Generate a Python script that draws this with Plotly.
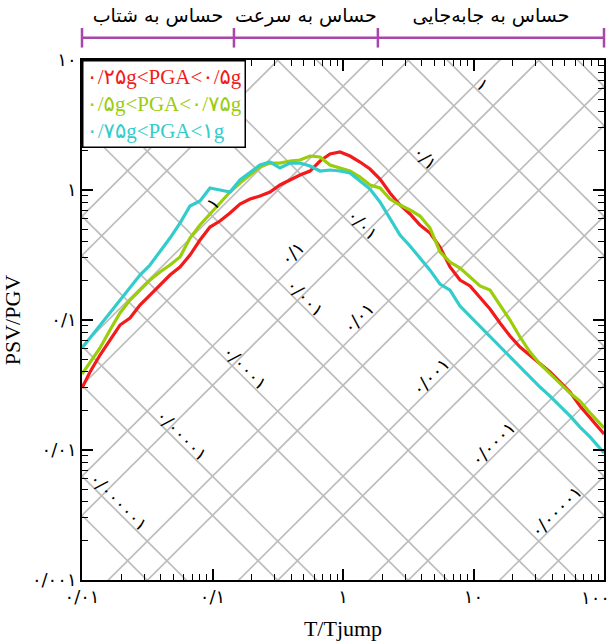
import math
import plotly.graph_objects as go

# ---------------------------------------------------------------------------
# Normalised spectra PSV/PGV against T/Tjump for three PGA bins
# ---------------------------------------------------------------------------
period = [0.0100, 0.01152, 0.01374, 0.01639, 0.01955, 0.02332, 0.02782, 0.03319, 0.03960, 0.04723,
          0.05636, 0.06723, 0.08020, 0.09568, 0.1141, 0.1362, 0.1624, 0.1938, 0.2312, 0.2758,
          0.3290, 0.3925, 0.4683, 0.5587, 0.6665, 0.7951, 0.9484, 1.131, 1.350, 1.610,
          1.921, 2.292, 2.734, 3.262, 3.891, 4.642, 5.538, 6.606, 7.881, 9.402,
          11.22, 13.38, 15.96, 19.04, 22.72, 27.10, 32.33, 38.57, 46.01, 54.89,
          65.49, 78.12, 100.0]

psv_low = [0.0300, 0.0398, 0.0538, 0.0702, 0.0915, 0.1036, 0.1304, 0.1557, 0.1858, 0.2219,
           0.2557, 0.3162, 0.4125, 0.5193, 0.5773, 0.6654, 0.7804, 0.8527, 0.8992, 0.9652,
           1.093, 1.194, 1.304, 1.400, 1.672, 1.892, 1.960, 1.826, 1.642, 1.450,
           1.215, 0.948, 0.767, 0.654, 0.538, 0.467, 0.364, 0.256, 0.203, 0.183,
           0.150, 0.1215, 0.0948, 0.0753, 0.0620, 0.0538, 0.0467, 0.0398, 0.0334, 0.0279,
           0.0218, 0.0176, 0.0133]

psv_mid = [0.0384, 0.0475, 0.0609, 0.0838, 0.1132, 0.1425, 0.1701, 0.2031, 0.2340, 0.2649,
           0.3052, 0.4273, 0.5381, 0.6537, 0.7943, 0.9652, 1.132, 1.304, 1.503, 1.613,
           1.613, 1.672, 1.701, 1.826, 1.794, 1.557, 1.476, 1.400, 1.259, 1.093,
           1.036, 0.853, 0.767, 0.702, 0.631, 0.510, 0.334, 0.279, 0.251, 0.214,
           0.183, 0.170, 0.1304, 0.1000, 0.0740, 0.0567, 0.0459, 0.0384, 0.0322, 0.0274,
           0.0238, 0.0193, 0.0148]

psv_high = [0.0609, 0.0727, 0.0915, 0.1152, 0.1425, 0.1794, 0.2219, 0.2649, 0.3336, 0.4273,
            0.5572, 0.7532, 0.8230, 1.036, 1.000, 0.9652, 1.194, 1.375, 1.557, 1.642,
            1.476, 1.613, 1.613, 1.530, 1.400, 1.425, 1.400, 1.351, 1.173, 1.018,
            0.809, 0.609, 0.451, 0.371, 0.300, 0.242, 0.189, 0.170, 0.128, 0.107,
            0.0899, 0.0753, 0.0631, 0.0528, 0.0443, 0.0364, 0.0305, 0.0260, 0.0218, 0.0183,
            0.0150, 0.0126, 0.0095]

series_names = ["۰/۲۵g&lt;PGA&lt;۰/۵g", "۰/۵g&lt;PGA&lt;۰/۷۵g", "۰/۷۵g&lt;PGA&lt;۱g"]
series_colors = ["#F21A1A", "#9ACD0A", "#33CCCC"]

# Tripartite guide lines: values m*10^n (m = 0.5, 1), scaled by 2*pi
grid_multipliers = [0.5, 1.0]
grid_decades = list(range(-6, 3))

disp_labels = ["۱", "۰/۱", "۰/۰۱", "۰/۰۰۱", "۰/۰۰۰۱", "۰/۰۰۰۰۱", "۰/۰۰۰۰۰۱"]
acc_labels = ["۱", "۰/۱", "۰/۰۱", "۰/۰۰۱", "۰/۰۰۰۱", "۰/۰۰۰۰۱"]

# Sensitivity regions along T/Tjump
region_bounds = [0.01, 0.146, 1.85, 100]
region_names = ["حساس به شتاب", "حساس به سرعت", "حساس به جابه\u200cجایی"]

x_tickvals = [0.01, 0.1, 1, 10, 100]
x_ticktext = ["۰/۰۱", "۰/۱", "۱", "۱۰", "۱۰۰"]
y_tickvals = [0.001, 0.01, 0.1, 1, 10]
y_ticktext = ["۰/۰۰۱", "۰/۰۱", "۰/۱", "۱", "۱۰"]

SERIF = "Liberation Serif, Times New Roman, DejaVu Sans, serif"
ARABIC = "DejaVu Sans, sans-serif"
GRID = "#BDBDBD"
PURPLE = "#A946A9"
TICK_FONT = dict(family=ARABIC, size=18, color="black")

fig = go.Figure()

# ---- guide lines --------------------------------------------------------
t_lo, t_hi = 1e-3, 1e3
dx, dy, ax_, ay_ = [], [], [], []
for n in grid_decades:
    for m in grid_multipliers:
        k = 2 * math.pi * m * 10 ** n
        # constant displacement: PSV * T = k
        dx += [t_lo, t_hi, None]
        dy += [k / t_lo, k / t_hi, None]
        # constant acceleration: PSV / T = k
        ax_ += [t_lo, t_hi, None]
        ay_ += [k * t_lo, k * t_hi, None]

for gx, gy in ((dx, dy), (ax_, ay_)):
    fig.add_trace(go.Scatter(x=gx, y=gy, mode="lines",
                             line=dict(color=GRID, width=1.7),
                             hoverinfo="skip", showlegend=False))

# ---- spectra -------------------------------------------------------------
for name, vals, col in zip(series_names, [psv_low, psv_mid, psv_high], series_colors):
    fig.add_trace(go.Scatter(x=period, y=vals, mode="lines", name=name,
                             line=dict(color=col, width=3.2)))

# ---- labels on guide lines ---------------------------------------------
label_font = dict(family=ARABIC, size=18, color="black")
disp_label_logt = [1.07, 0.63, 0.15, -0.29, -0.75, -1.23, -1.72]
for i, (txt, lt) in enumerate(zip(disp_labels, disp_label_logt)):
    logk = math.log10(2 * math.pi * 10 ** (1 - i))
    fig.add_annotation(x=lt, y=logk - lt + 0.085, text=txt, showarrow=False,
                       textangle=45, font=label_font, xref="x", yref="y")

acc_label_logt = [-1.0, -0.39, 0.12, 0.67, 1.15, 1.63]
for i, (txt, lt) in enumerate(zip(acc_labels, acc_label_logt)):
    logk = math.log10(2 * math.pi * 10 ** (-i))
    fig.add_annotation(x=lt, y=logk + lt + 0.1, text=txt, showarrow=False,
                       textangle=-45, font=label_font, xref="x", yref="y")

# ---- sensitivity bracket on top -----------------------------------------
fig.add_trace(go.Scatter(x=region_bounds, y=[0.33] * len(region_bounds),
                         xaxis="x", yaxis="y2", mode="lines+markers",
                         line=dict(color=PURPLE, width=2.5),
                         marker=dict(symbol="line-ns", size=14,
                                     line=dict(color=PURPLE, width=2.5)),
                         cliponaxis=False, hoverinfo="skip", showlegend=False))
mids = [math.sqrt(a * b) for a, b in zip(region_bounds[:-1], region_bounds[1:])]
fig.add_trace(go.Scatter(x=mids, y=[0.74] * len(mids), xaxis="x", yaxis="y2",
                         mode="text", text=region_names,
                         textfont=dict(family=ARABIC, size=19, color="black"),
                         cliponaxis=False, hoverinfo="skip", showlegend=False))

# ---- legend box ----------------------------------------------------------
legend_text = "<br>".join(
    f"<span style='color:{c}'>{n}</span>" for n, c in zip(series_names, series_colors))
fig.add_annotation(xref="x domain", yref="y domain", x=0, y=1,
                   xanchor="left", yanchor="top", align="left",
                   text=legend_text, showarrow=False,
                   font=dict(family=SERIF, size=21),
                   bgcolor="white", bordercolor="black", borderwidth=1.5, borderpad=3)

# the right-most x label is right-aligned on its tick so it stays on the page
fig.add_annotation(xref="x", yref="y domain", x=math.log10(x_tickvals[-1]), y=0,
                   xanchor="right", yanchor="top", xshift=8, yshift=-5,
                   text=x_ticktext[-1], showarrow=False, font=TICK_FONT)
x_ticktext_drawn = x_ticktext[:-1] + [""]

axis_common = dict(type="log", showline=True, linecolor="black", linewidth=1.5,
                   mirror="ticks", ticks="inside", ticklen=11, tickwidth=1.5,
                   tickcolor="black", showgrid=False, zeroline=False,
                   tickmode="array", automargin=False,
                   tickfont=TICK_FONT,
                   minor=dict(ticks="inside", ticklen=6, tickwidth=1.2,
                              tickcolor="black", dtick="D1", showgrid=False))

fig.update_layout(
    width=615, height=643,
    margin=dict(l=82, r=11, t=5, b=63, autoexpand=False),
    paper_bgcolor="white", plot_bgcolor="white",
    showlegend=False,
    xaxis=dict(axis_common, range=[-2, 2], tickvals=x_tickvals,
               ticktext=x_ticktext_drawn,
               title=dict(text="T/Tjump", standoff=14,
                          font=dict(family=SERIF, size=22, color="black"))),
    yaxis=dict(axis_common, range=[-3, 1], domain=[0, 0.9043],
               tickvals=y_tickvals, ticktext=y_ticktext,
               title=dict(text="PSV/PGV", standoff=6,
                          font=dict(family=SERIF, size=22, color="black"))),
    yaxis2=dict(domain=[0.915, 1], range=[0, 1], anchor="x", visible=False,
                fixedrange=True),
)

fig.write_html("out.html")
